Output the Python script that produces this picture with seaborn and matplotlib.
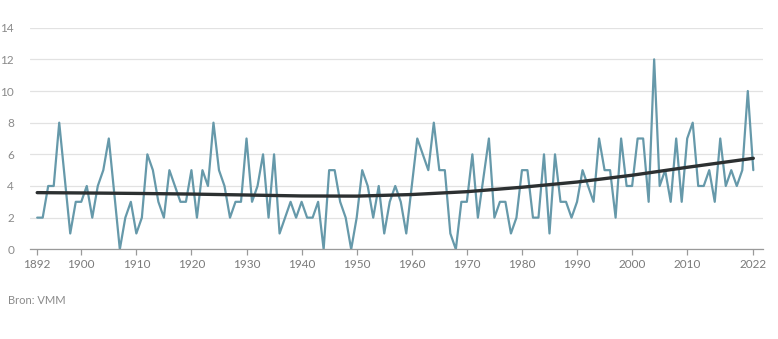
import seaborn as sns
import matplotlib.pyplot as plt
import numpy as np
import pandas as pd

# jaarlijkse waarden 1892-2022
years = list(range(1892, 2023))
values = [
    2, 2, 4, 4, 8, 4.5, 1, 3, 3, 4,          # 1892-1901
    2, 4, 5, 7, 3.5, 0, 2, 3, 1, 2,          # 1902-1911
    6, 5, 3, 2, 5, 4, 3, 3, 5, 2,            # 1912-1921
    5, 4, 8, 5, 4, 2, 3, 3, 7, 3,            # 1922-1931
    4, 6, 2, 6, 1, 2, 3, 2, 3, 2,            # 1932-1941
    2, 3, 0, 5, 5, 3, 2, 0, 2, 5,            # 1942-1951
    4, 2, 4, 1, 3, 4, 3, 1, 4, 7,            # 1952-1961
    6, 5, 8, 5, 5, 1, 0, 3, 3, 6,            # 1962-1971
    2, 4.5, 7, 2, 3, 3, 1, 2, 5, 5,          # 1972-1981
    2, 2, 6, 1, 6, 3, 3, 2, 3, 5,            # 1982-1991
    4, 3, 7, 5, 5, 2, 7, 4, 4, 7,            # 1992-2001
    7, 3, 12, 4, 5, 3, 7, 3, 7, 8,           # 2002-2011
    4, 4, 5, 3, 7, 4, 5, 4, 5, 10,           # 2012-2021
    5,                                       # 2022
]

trend_years = [1892, 1900, 1910, 1920, 1930, 1940, 1950, 1960, 1970, 1980, 1990, 2000, 2010, 2022]
trend_values = [3.58, 3.56, 3.53, 3.49, 3.43, 3.37, 3.36, 3.46, 3.64, 3.92, 4.25, 4.68, 5.18, 5.75]

x_ticks = [1892, 1900, 1910, 1920, 1930, 1940, 1950, 1960, 1970, 1980, 1990, 2000, 2010, 2022]
y_ticks = [0, 2, 4, 6, 8, 10, 12, 14]

df = pd.DataFrame({"jaar": years, "waarde": values})
trend = pd.DataFrame({"jaar": trend_years, "waarde": trend_values})

sns.set_style("white")
plt.rcParams["font.family"] = ["Lato", "DejaVu Sans"]

fig = plt.figure(figsize=(7.78, 3.39), dpi=100)
ax = fig.add_axes([0.0386, 0.2646, 0.9417, 0.6537])

sns.lineplot(data=df, x="jaar", y="waarde", ax=ax, color="#6699aa", linewidth=1.6)
sns.lineplot(data=trend, x="jaar", y="waarde", ax=ax, color="#2c3031", linewidth=2.4)

ax.set_xlim(1890.7, 2023.7)
ax.set_ylim(0, 14)
ax.set_xticks(x_ticks)
ax.set_yticks(y_ticks)
ax.set_xlabel("")
ax.set_ylabel("")

ax.grid(axis="y", color="#e2e2e2", linewidth=0.9)
ax.set_axisbelow(True)
for s in ["top", "right", "left"]:
    ax.spines[s].set_visible(False)
ax.spines["bottom"].set_color("#9a9a9a")
ax.spines["bottom"].set_linewidth(0.9)

ax.tick_params(axis="x", bottom=True, length=4, width=0.9, color="#9a9a9a",
               labelsize=8.5, labelcolor="#7a7a7a", pad=3)
ax.tick_params(axis="y", left=False, labelsize=8.5, labelcolor="#8a8a8a", pad=8)

fig.text(0.0103, 0.115, "Bron: VMM", fontsize=8, color="#8a8a8a", va="center")

plt.savefig("out.png", dpi=100)
